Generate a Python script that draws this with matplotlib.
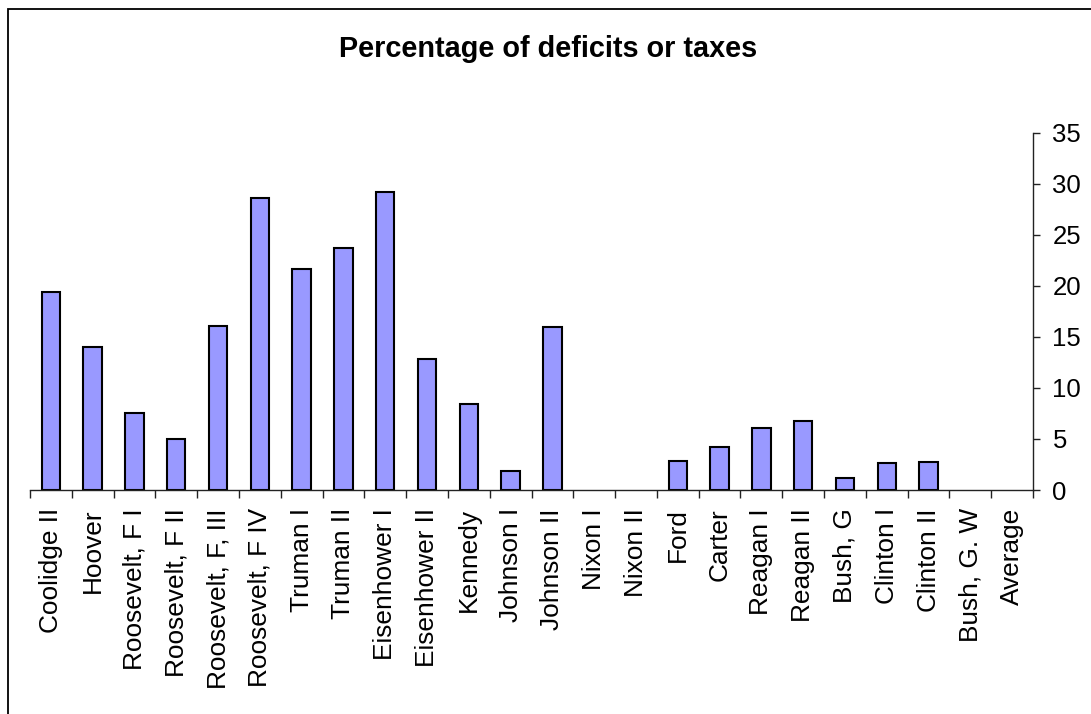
import matplotlib
matplotlib.use("Agg")
import matplotlib.pyplot as plt
from matplotlib.patches import Rectangle
import numpy as np

plt.rcParams['font.family'] = ['Liberation Sans', 'DejaVu Sans']

categories = ["Coolidge II", "Hoover", "Roosevelt, F I", "Roosevelt, F II",
              "Roosevelt, F, III", "Roosevelt, F IV", "Truman I", "Truman II",
              "Eisenhower I", "Eisenhower II", "Kennedy", "Johnson I", "Johnson II",
              "Nixon I", "Nixon II", "Ford", "Carter", "Reagan I", "Reagan II",
              "Bush, G", "Clinton I", "Clinton II", "Bush, G. W", "Average"]
values = [19.4, 14.0, 7.5, 5.0, 16.1, 28.6, 21.6, 23.7, 29.2, 12.8, 8.4, 1.9, 16.0,
          0, 0, 2.8, 4.2, 6.1, 6.8, 1.2, 2.6, 2.7, 0, 0]
yticks = [0, 5, 10, 15, 20, 25, 30, 35]
title = "Percentage of deficits or taxes"

W, H = 1091, 714
fig = plt.figure(figsize=(W / 100, H / 100), dpi=100)
fig.patch.set_facecolor('white')

# outer chart frame
fig.patches.append(Rectangle((8 / W, -0.1), 1.2, 1 - 9 / H + 0.1,
                             transform=fig.transFigure, fill=False,
                             edgecolor='black', linewidth=1.3))

left, right = 30 / W, 1033 / W
bottom, top = 1 - 490 / H, 1 - 132.7 / H
ax = fig.add_axes([left, bottom, right - left, top - bottom])

x = np.arange(len(categories))
bars = ax.bar(x, values, width=0.44, color='#9999FF', edgecolor='black', linewidth=1.5, zorder=3)
for b, v in zip(bars, values):
    if v == 0:
        b.set_linewidth(0)

ax.set_xlim(-0.5, len(categories) - 0.5)
ax.set_ylim(0, 35)

for s in ['top', 'left']:
    ax.spines[s].set_visible(False)
ax.spines['bottom'].set_color('#222222')
ax.spines['right'].set_color('#222222')
ax.spines['bottom'].set_linewidth(1.0)
ax.spines['right'].set_linewidth(1.0)
ax.spines['bottom'].set_zorder(4)

# x ticks at boundaries, labels at centres
ax.set_xticks(np.arange(len(categories) + 1) - 0.5)
ax.set_xticklabels([])
ax.tick_params(axis='x', which='major', direction='out', length=6, width=1.0, color='#222222')
ax.set_xticks(x, minor=True)
ax.set_xticklabels(categories, minor=True, rotation=90, fontsize=18.9)
ax.tick_params(axis='x', which='minor', length=0, pad=13)

ax.yaxis.tick_right()
ax.set_yticks(yticks)
ax.set_yticklabels([str(v) for v in yticks], fontsize=18.5)
ax.tick_params(axis='y', direction='out', length=5, width=1.0, color='#222222', pad=9)

fig.text(0.502, 1 - 57 / H, title, ha='center', va='baseline', fontsize=20.8, fontweight='bold')

fig.savefig('out.png', dpi=100)
